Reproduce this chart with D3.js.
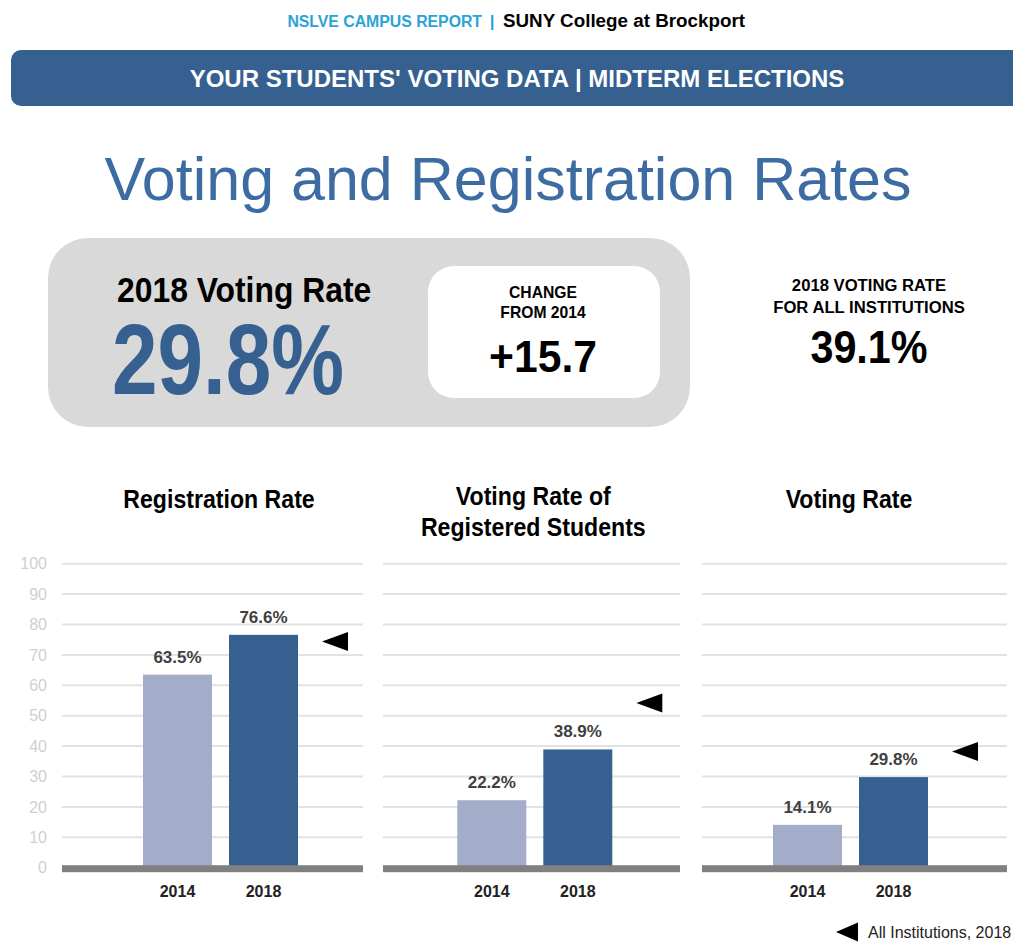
<!DOCTYPE html>
<html>
<head>
<meta charset="utf-8">
<script src="https://cdnjs.cloudflare.com/ajax/libs/d3/7.8.5/d3.min.js"></script>
<style>
  body { margin: 0; background: #fff; }
  svg { display: block; }
</style>
</head>
<body>
<div id="chart"></div>
<script>
// ---- data ----
var panelTitles = [["Registration Rate"], ["Voting Rate of", "Registered Students"], ["Voting Rate"]];
var years = ["2014", "2018"];
var rates2014 = [63.5, 22.2, 14.1];
var rates2018 = [76.6, 38.9, 29.8];
var allInst2018 = [74.4, 54.2, 38.2]; // marker positions as drawn
var yTicks = [0, 10, 20, 30, 40, 50, 60, 70, 80, 90, 100];

var headerLeft = "NSLVE CAMPUS REPORT",
    headerRight = "SUNY College at Brockport",
    bannerText = "YOUR STUDENTS' VOTING DATA | MIDTERM ELECTIONS",
    mainTitle = "Voting and Registration Rates",
    bigLabel = "2018 Voting Rate",
    bigValue = "29.8%",
    changeLabel = ["CHANGE", "FROM 2014"],
    changeValue = "+15.7",
    allLabel = ["2018 VOTING RATE", "FOR ALL INSTITUTIONS"],
    allValue = "39.1%",
    legendText = "All Institutions, 2018";

var width = 1013, height = 942;
var SANS = "'Liberation Sans', Arial, sans-serif";
var blue = "#35608f", light = "#a3acc9";

var svg = d3.select("#chart").append("svg")
    .attr("width", width)
    .attr("height", height);

// text helper: sx < 1 squeezes the glyphs to mimic the narrow face of the original
function txt(parent, x, y, str, size, opts) {
    opts = opts || {};
    return parent.append("text")
        .attr("transform", "translate(" + x + "," + y + ") scale(" + (opts.sx || 1) + ",1)")
        .attr("text-anchor", opts.anchor || "start")
        .attr("fill", opts.fill || "#000")
        .style("font-family", SANS)
        .style("font-weight", opts.bold === false ? "normal" : "bold")
        .style("font-size", size + "px")
        .text(str);
}

/* ------- HEADER ------- */
txt(svg, 482, 27, headerLeft, 17, { anchor: "end", fill: "#2aa3d6", sx: 0.93 });
txt(svg, 492, 27, "|", 17, { anchor: "middle", fill: "#2aa3d6" });
txt(svg, 503, 27, headerRight, 19, { sx: 0.99 });

svg.append("rect")
    .attr("x", 11).attr("y", 50)
    .attr("width", 1020).attr("height", 56)
    .attr("rx", 10)
    .attr("fill", blue);

txt(svg, 517, 87, bannerText, 24, { anchor: "middle", fill: "#fff" });

txt(svg, 508, 200, mainTitle, 61, { anchor: "middle", fill: "#3d6ca3", bold: false });

/* ------- SUMMARY BOXES ------- */
svg.append("rect")
    .attr("x", 48).attr("y", 238)
    .attr("width", 642).attr("height", 189)
    .attr("rx", 40)
    .attr("fill", "#d9d9d9");

svg.append("rect")
    .attr("x", 428).attr("y", 266)
    .attr("width", 232).attr("height", 132)
    .attr("rx", 26)
    .attr("fill", "#fff");

txt(svg, 117, 302, bigLabel, 35, { sx: 0.91 });
txt(svg, 112, 394, bigValue, 101, { fill: blue, sx: 0.81 });

changeLabel.forEach(function(d, i) {
    txt(svg, 543, 298 + i * 20, d, 16, { anchor: "middle", sx: 0.98 });
});
txt(svg, 543, 372, changeValue, 44, { anchor: "middle", sx: 0.97 });

allLabel.forEach(function(d, i) {
    txt(svg, 869, 291 + i * 22, d, 17, { anchor: "middle", sx: 0.98 });
});
txt(svg, 869, 363, allValue, 47, { anchor: "middle", sx: 0.88 });

/* ------- BAR PANELS ------- */
var y = d3.scaleLinear().domain([0, 100]).range([867.7, 563.7]);

var panels = [
    { x0: 62, x1: 363, c: 220.5 },
    { x0: 383, x1: 680, c: 534.8 },
    { x0: 702, x1: 1007, c: 850.5 }
];

// y-axis labels on the first panel only
svg.append("g")
    .attr("transform", "translate(47,0)")
    .call(d3.axisLeft(y).tickValues(yTicks).tickSize(0).tickPadding(0))
    .call(g => g.select(".domain").remove())
    .call(g => g.selectAll("text")
        .attr("fill", "#cfcfcf")
        .style("font-family", SANS)
        .style("font-size", "16px"));

panels.forEach(function(p, i) {
    var g = svg.append("g").attr("class", "panel");

    var x = d3.scaleBand()
        .domain(years)
        .range([p.c - 77.5, p.c + 77.5])
        .paddingInner(0.198);

    // gridlines
    g.append("g").selectAll("line")
        .data(yTicks.filter(t => t > 0))
        .join("line")
        .attr("x1", p.x0).attr("x2", p.x1)
        .attr("y1", d => y(d)).attr("y2", d => y(d))
        .attr("stroke", "#e2e2e2")
        .attr("stroke-width", 2);

    // title
    panelTitles[i].forEach(function(t, k) {
        var ty = panelTitles[i].length > 1 ? 505 + k * 31 : 508;
        txt(g, p.c - 1.5, ty, t, 25, { anchor: "middle", sx: 0.925 });
    });

    var vals = [rates2014[i], rates2018[i]];

    g.append("g").selectAll("rect")
        .data(vals)
        .join("rect")
        .attr("x", (d, k) => x(years[k]))
        .attr("width", x.bandwidth())
        .attr("y", d => y(d))
        .attr("height", d => y(0) - y(d))
        .attr("fill", (d, k) => k === 0 ? light : blue);

    g.append("g").selectAll("text")
        .data(vals)
        .join("text")
        .attr("x", (d, k) => x(years[k]) + x.bandwidth() / 2)
        .attr("y", d => y(d) - 12)
        .attr("text-anchor", "middle")
        .attr("fill", "#404040")
        .style("font-family", SANS).style("font-weight", "bold").style("font-size", "17px")
        .text(d => d.toFixed(1) + "%");

    // baseline
    g.append("rect")
        .attr("x", p.x0).attr("y", y(0) - 2.5)
        .attr("width", p.x1 - p.x0).attr("height", 7)
        .attr("fill", "#808080");

    // x axis labels
    g.append("g")
        .attr("transform", "translate(0," + (y(0) + 4) + ")")
        .call(d3.axisBottom(x).tickSize(0).tickPadding(14))
        .call(a => a.select(".domain").remove())
        .call(a => a.selectAll("text")
            .attr("fill", "#222")
            .style("font-family", SANS)
            .style("font-weight", "bold")
            .style("font-size", "16px"));

    // all institutions marker
    var tip = x.range()[1] + 24, my = y(allInst2018[i]);
    g.append("path")
        .attr("d", "M" + tip + "," + my + "L" + (tip + 26) + "," + (my - 9.5) + "L" + (tip + 26) + "," + (my + 9.5) + "Z")
        .attr("fill", "#000");
});

/* ------- LEGEND ------- */
svg.append("path")
    .attr("d", "M836,932L858,922.5L858,941.5Z")
    .attr("fill", "#000");

txt(svg, 868, 938, legendText, 16, { fill: "#222", bold: false });
</script>
</body>
</html>
